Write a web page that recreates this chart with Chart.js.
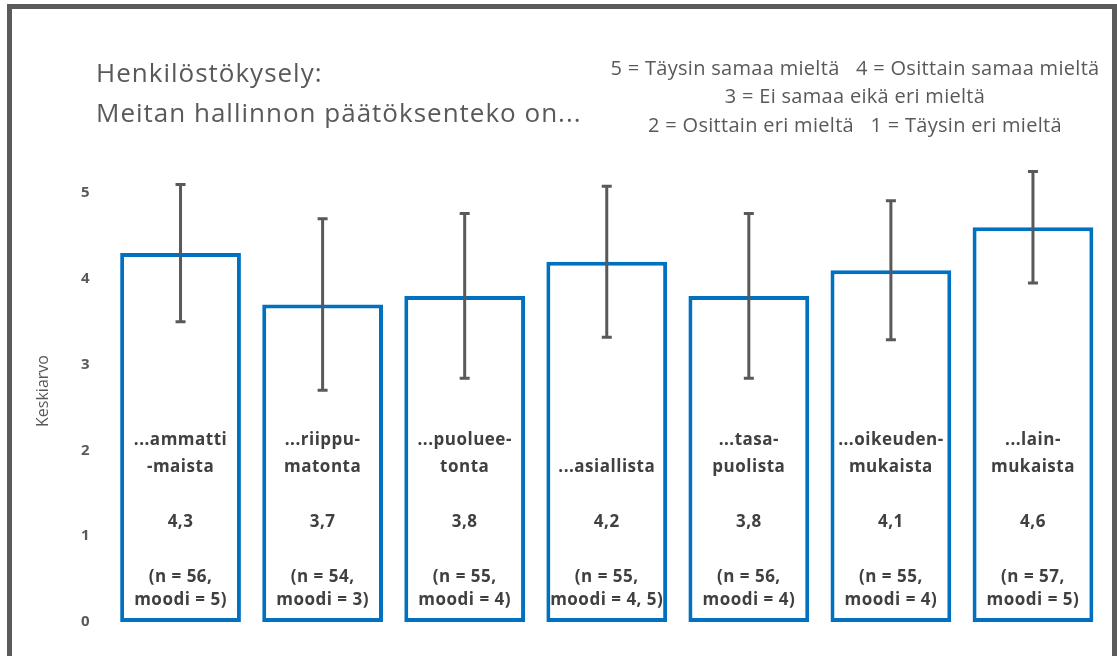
<!DOCTYPE html>
<html>
<head>
    <meta charset="UTF-8">
    <title>Henkilöstökysely</title>
    <script src="https://cdn.jsdelivr.net/npm/chart.js@4/dist/chart.umd.min.js"></script>
    <style>
        body { margin: 0; background: #fff; }
        #frame { position: absolute; left: 7px; top: 4px; width: 1110px; height: 720px; box-sizing: border-box; border: 5px solid #5b5b5b; }
        #wrap { position: absolute; left: 0; top: 0; width: 1117px; height: 656px; }
    </style>
    <script>
        // kysymykset (rivitettynä kuten kuvassa)
        let categories = [
            ['...ammatti', '-maista'],
            ['...riippu-', 'matonta'],
            ['...puoluee-', 'tonta'],
            ['', '...asiallista'],
            ['...tasa-', 'puolista'],
            ['...oikeuden-', 'mukaista'],
            ['...lain-', 'mukaista']
        ];
        let means = [4.3, 3.7, 3.8, 4.2, 3.8, 4.1, 4.6];
        let sd = [0.8, 1.0, 0.96, 0.88, 0.96, 0.81, 0.65];
        let nCounts = [56, 54, 55, 55, 56, 55, 57];
        let modes = ['5', '3', '4', '4, 5', '4', '4', '5'];
        let yTicks = [0, 1, 2, 3, 4, 5];
        let titleLines = ['Henkilöstökysely:', 'Meitan hallinnon päätöksenteko on...'];
        let scaleLines = [
            '5 = Täysin samaa mieltä   4 = Osittain samaa mieltä',
            '3 = Ei samaa eikä eri mieltä',
            '2 = Osittain eri mieltä   1 = Täysin eri mieltä'
        ];
        let yTitle = 'Keskiarvo';
    </script>
</head>
<body>
    <div id="frame"></div>
    <div id="wrap"><canvas id="chart" width="1117" height="656"></canvas></div>
    <script>
        const FONT = '"Open Sans", "Liberation Sans", sans-serif';
        const GRAY = '#595959';

        const extras = {
            id: 'extras',
            afterDatasetsDraw(chart) {
                const ctx = chart.ctx;
                const y = chart.scales.y;
                const meta = chart.getDatasetMeta(0);
                ctx.save();
                // virhejanat
                ctx.strokeStyle = GRAY;
                ctx.lineWidth = 3;
                meta.data.forEach((bar, i) => {
                    const top = y.getPixelForValue(means[i] + sd[i]);
                    const bot = y.getPixelForValue(means[i] - sd[i]);
                    ctx.beginPath();
                    ctx.moveTo(bar.x, top); ctx.lineTo(bar.x, bot);
                    ctx.moveTo(bar.x - 5, top); ctx.lineTo(bar.x + 5, top);
                    ctx.moveTo(bar.x - 5, bot); ctx.lineTo(bar.x + 5, bot);
                    ctx.stroke();
                });
                // tekstit pylvaiden sisalla
                ctx.fillStyle = '#404040';
                ctx.textAlign = 'center';
                ctx.textBaseline = 'middle';
                ctx.font = 'bold 17px ' + FONT;
                ctx.letterSpacing = '0.5px';
                const b = chart.chartArea.bottom;
                meta.data.forEach((bar, i) => {
                    ctx.fillText(categories[i][0], bar.x, b - 182);
                    ctx.fillText(categories[i][1], bar.x, b - 155);
                    ctx.fillText(means[i].toFixed(1).replace('.', ','), bar.x, b - 100);
                    ctx.fillText('(n = ' + nCounts[i] + ',', bar.x, b - 45);
                    ctx.fillText('moodi = ' + modes[i] + ')', bar.x, b - 22);
                });
                // otsikko
                ctx.fillStyle = GRAY;
                ctx.textAlign = 'left';
                ctx.font = '26px ' + FONT;
                ctx.letterSpacing = '1px';
                ctx.fillText(titleLines[0], 96, 75);
                ctx.fillText(titleLines[1], 96, 115);
                // asteikon selitys
                ctx.textAlign = 'center';
                ctx.font = '20px ' + FONT;
                ctx.letterSpacing = '0.3px';
                scaleLines.forEach((t, i) => ctx.fillText(t, 855, 69 + i * 28.5));
                // y-akselin otsikko
                ctx.letterSpacing = '0px';
                ctx.translate(43, 391);
                ctx.rotate(-Math.PI / 2);
                ctx.font = '16px ' + FONT;
                ctx.fillText(yTitle, 0, 0);
                ctx.restore();
            }
        };

        new Chart(document.getElementById('chart'), {
            type: 'bar',
            data: {
                labels: categories.map(c => c.join(' ')),
                datasets: [{
                    data: means,
                    backgroundColor: '#ffffff',
                    borderColor: '#0070c0',
                    borderWidth: 4,
                    borderSkipped: false,
                    barPercentage: 0.85,
                    categoryPercentage: 1
                }]
            },
            options: {
                responsive: false,
                animation: false,
                layout: { padding: { top: 193, bottom: 34, left: 25, right: 13 } },
                plugins: { legend: { display: false }, tooltip: { enabled: false } },
                scales: {
                    x: { display: false },
                    y: {
                        min: 0, max: 5,
                        afterBuildTicks: s => { s.ticks = yTicks.map(v => ({ value: v })); },
                        afterFit: s => { s.width = 84.5; },
                        border: { display: false },
                        grid: { display: false, drawTicks: false },
                        ticks: { padding: 20, color: GRAY, font: { family: FONT, size: 15, weight: 'bold' } }
                    }
                }
            },
            plugins: [extras]
        });
    </script>
</body>
</html>
